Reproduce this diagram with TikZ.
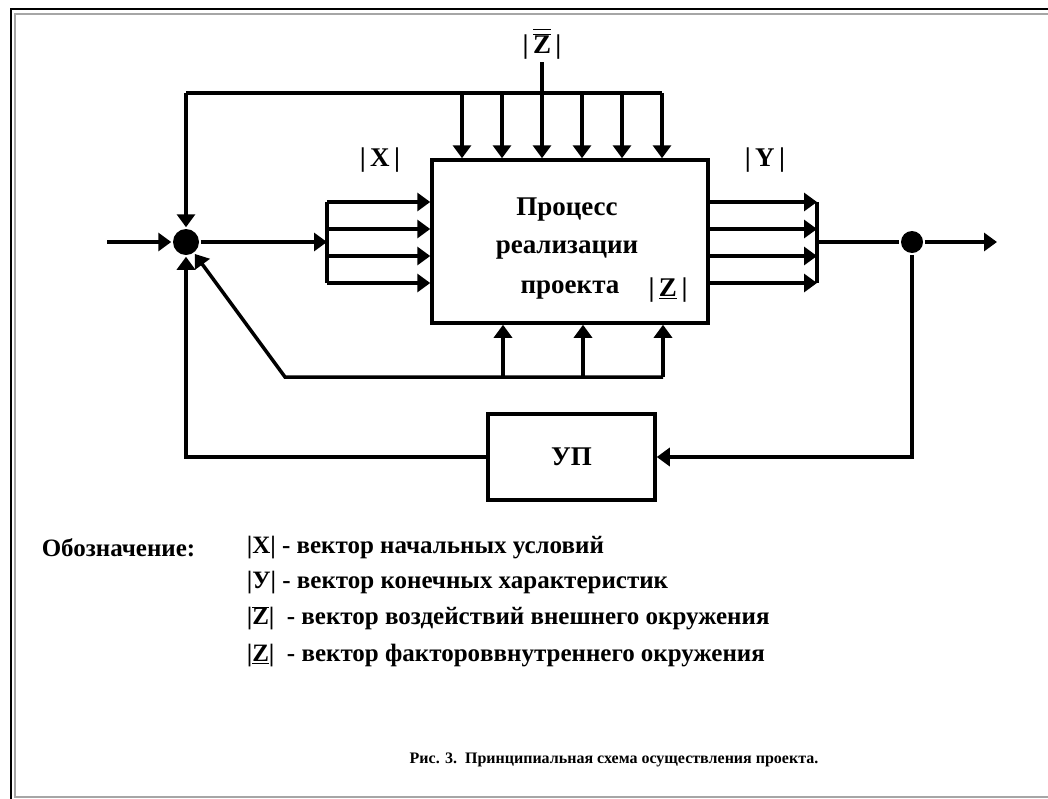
\documentclass[tikz,border=0pt]{standalone}
\usepackage{fontspec}
\setmainfont{Liberation Serif}
\usetikzlibrary{positioning,arrows.meta}

\begin{document}
\begin{tikzpicture}[
  x=1pt,y=-1pt,
  every node/.style={font=\bfseries\fontsize{27}{30}\selectfont},
  block/.style={rectangle,draw,line width=3.5pt,inner sep=0pt},
  joint/.style={circle,fill,inner sep=0pt,minimum size=24pt},
  lbl/.style={inner sep=1pt},
  legend/.style={anchor=west,inner sep=0pt,font=\bfseries\fontsize{25}{28}\selectfont},
  line width=3.5pt,
  >={Triangle[length=13pt,width=18pt]}
]

% FRAME
\useasboundingbox (0,0) rectangle (1048,798);
\draw[line width=2pt] (11,9) rectangle (1080,830);
\draw[gray!70,line width=1.5pt] (15,14) rectangle (1070,797);

% PROCESS BLOCK
\node[block,minimum width=276pt,minimum height=163pt] (proc) at (570,241.5) {};
\node (p1) at (567,210) {Процесс};
\node (p2) at (567,250) {реализации};
\node (p3) at (570,290) {проекта};
\node (zin) at (668,290) {|\,\underline{Z}\,|};

% CONTROL BLOCK
\node[block,minimum width=167pt,minimum height=86pt] (ctrl) at (571.5,457) {УП};

% JUNCTIONS
\node[joint,minimum size=26pt] (sum) at (186,242) {};
\node[joint,minimum size=22pt] (tap) at (912,242) {};

\coordinate (in) at (107,242);
\coordinate (out) at (997,242);
\coordinate (xbus) at (327,242);
\coordinate (ybus) at (817,242);
\coordinate (topL) at (186,93);
\coordinate (topR) at (662,93);
\coordinate (botL) at (285,377);
\coordinate (botR) at (663,377);

% MAIN LINE
\draw[->] (in) -- (sum);
\draw[->] (sum) -- (xbus);
\draw (ybus) -- (tap);
\draw[->] (tap) -- (out);

% VECTORS X AND Y
\foreach \y [count=\i] in {202,229,256,283} {
  \coordinate (x\i) at (327,\y);
  \coordinate (y\i) at (817,\y);
  \draw[->] (x\i) -- (x\i -| proc.west);
  \draw[->] (y\i -| proc.east) -- (y\i);
}
\draw (x1) -- (x4);
\draw (y1) -- (y4);

\node[lbl] (lx) at (380,160) {|\,X\,|};
\node[lbl] (ly) at (765,160) {|\,Y\,|};

% EXTERNAL ENVIRONMENT (top)
\node[lbl] (zext) at (542,44) {|\,$\overline{\mbox{\raisebox{0pt}[\dimexpr\height+3pt\relax]{$\overline{\mbox{Z}}$}}}$\,|};
\draw (topR) -- (topL);
\draw[->] (topL) -- (sum);
\foreach \x [count=\i] in {462,502,582,622,662} {
  \coordinate (t\i) at (\x,93);
  \draw[->] (t\i) -- (t\i |- proc.north);
}
\draw[->] (zext) -- (zext |- proc.north);

% INTERNAL FACTORS (bottom)
\draw[->] (botR) -- (botL) -- (sum);
\foreach \x [count=\i] in {503,583,663} {
  \coordinate (b\i) at (\x,377);
  \draw[->] (b\i) -- (b\i |- proc.south);
}

% CONTROL LOOP
\draw[->] (tap) |- (ctrl);
\draw[->] (ctrl) -| (sum);

% LEGEND
\node[legend] (lgd) at (40,548) {Обозначение:};
\node[legend] (l1) at (245,548) {|X| - вектор начальных условий};
\node[legend] (l2) at (245,583) {|У| - вектор конечных характеристик};
\node[legend] (l3) at (245,618) {|$\overline{\mbox{Z}}$|\enspace - вектор воздействий внешнего окружения};
\node[legend] (l4) at (245,656) {|\underline{Z}|\enspace - вектор факторoввнутреннего окружения};

% CAPTION
\node[font=\bfseries\fontsize{16}{18}\selectfont] (cap) at (614,760) {Рис. 3.\ \ Принципиальная схема осуществления проекта.};

\end{tikzpicture}
\end{document}
